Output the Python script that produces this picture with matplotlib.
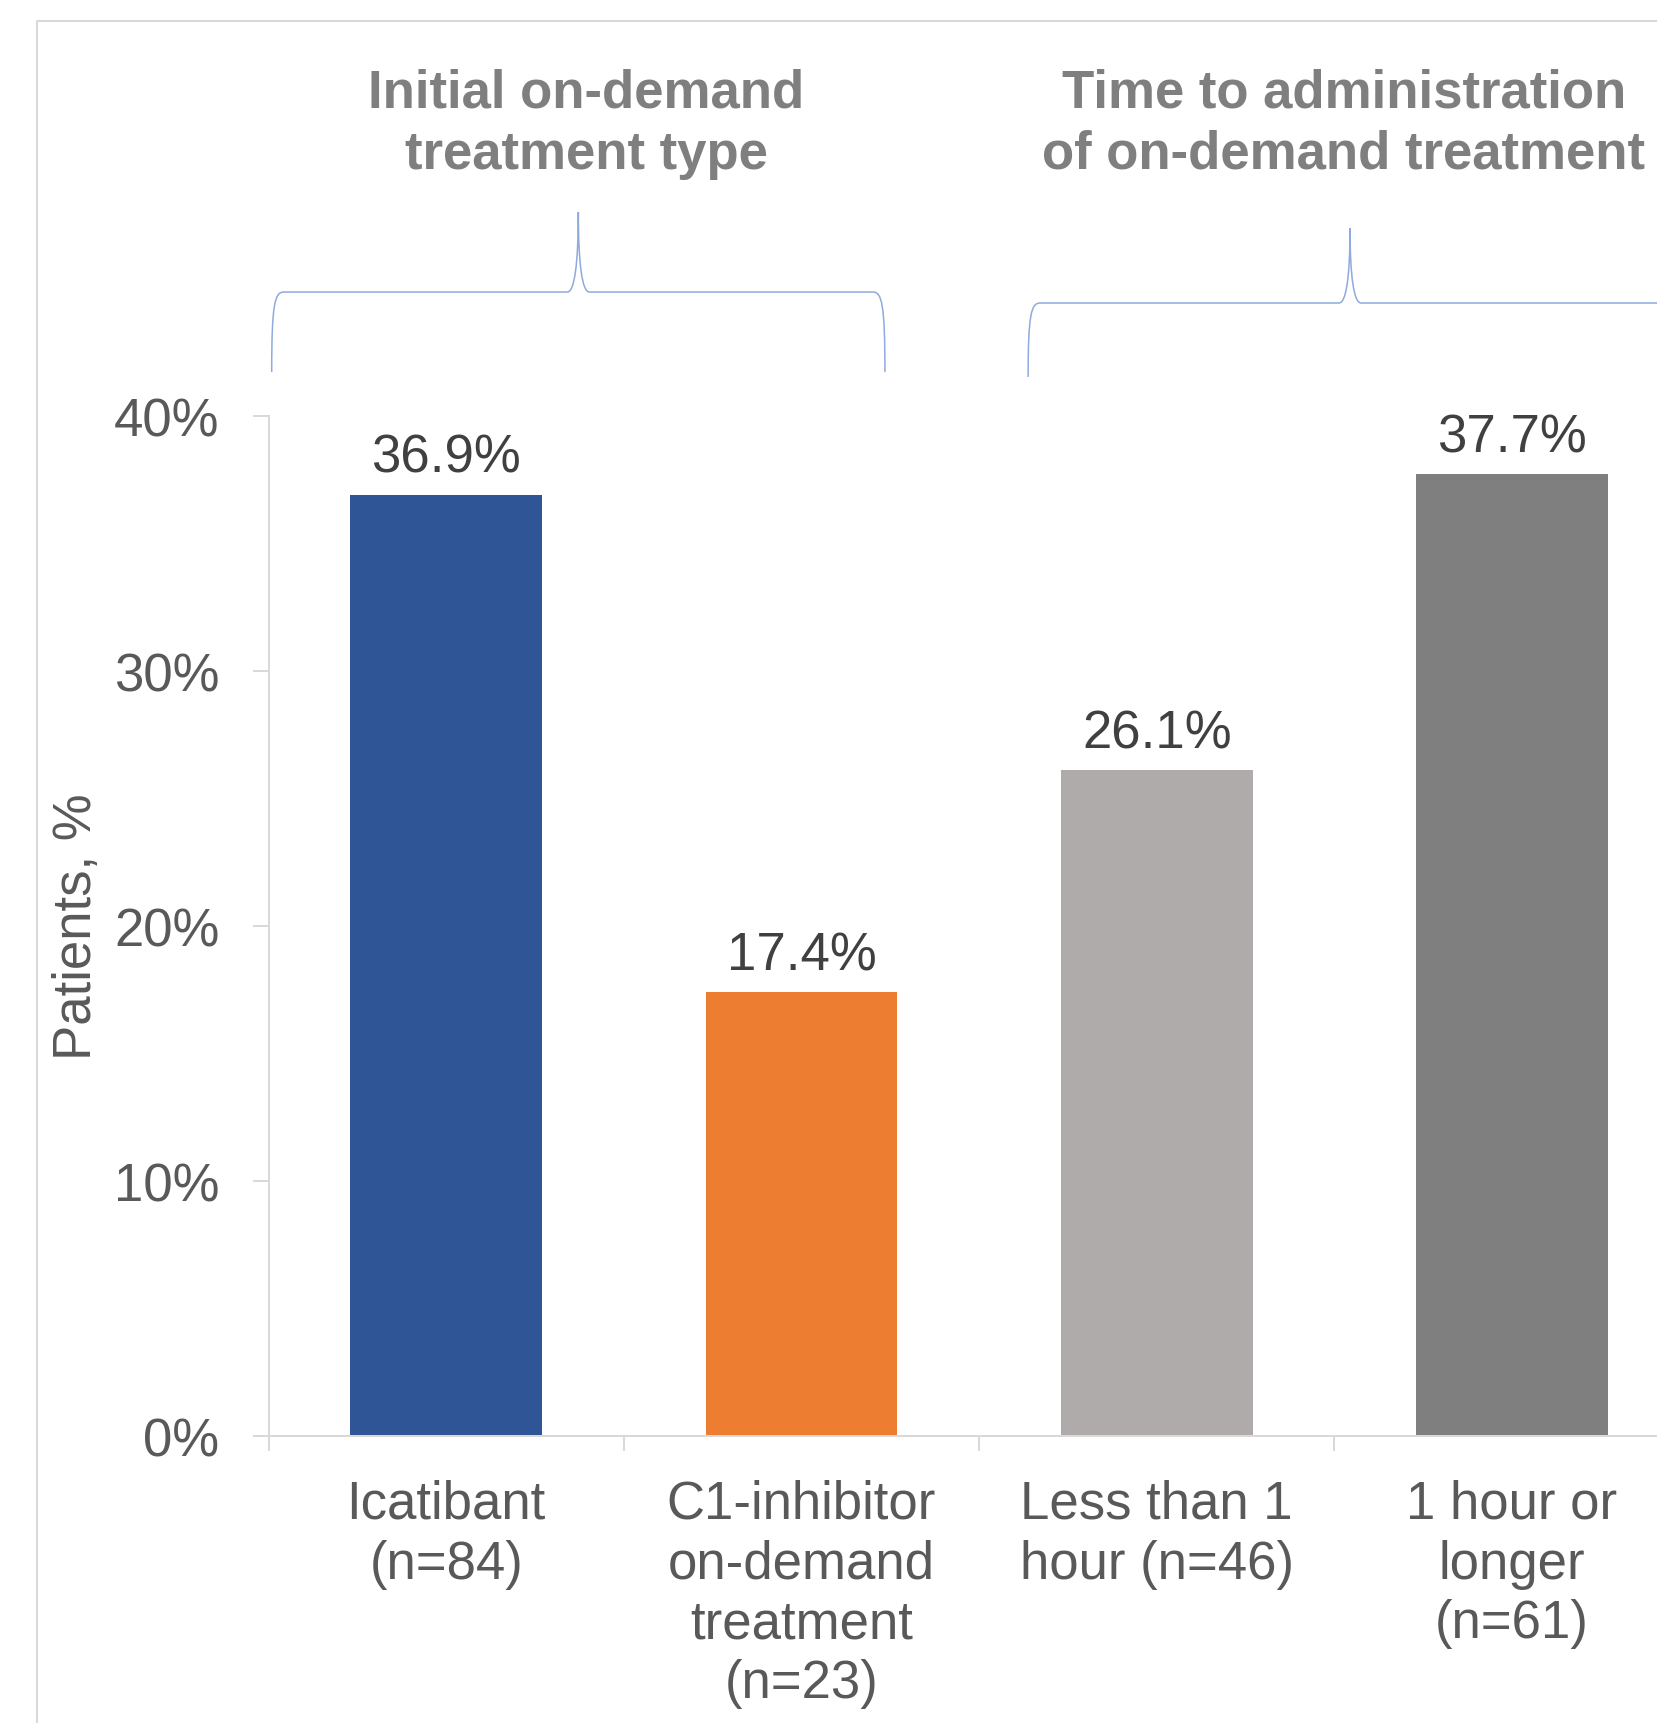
import matplotlib
matplotlib.use("Agg")
import matplotlib.pyplot as plt
from matplotlib.path import Path
from matplotlib.patches import PathPatch
from matplotlib.lines import Line2D
import numpy as np

# ---- data ----
categories = ["Icatibant\n(n=84)",
              "C1-inhibitor\non-demand\ntreatment\n(n=23)",
              "Less than 1\nhour (n=46)",
              "1 hour or\nlonger\n(n=61)"]
values = [36.9, 17.4, 26.1, 37.7]
value_labels = ["36.9%", "17.4%", "26.1%", "37.7%"]
yticks = [0, 10, 20, 30, 40]
ytick_labels = ["0%", "10%", "20%", "30%", "40%"]
group_titles = ["Initial on-demand\ntreatment type",
                "Time to administration\nof on-demand treatment"]
ylabel = "Patients, %"

# ---- style ----
bar_colors = ["#2F5597", "#ED7D31", "#AFABAB", "#7F7F7F"]
axis_color = "#D9D9D9"
tick_text = "#595959"
value_text = "#404040"
title_text = "#7F7F7F"
brace_color = "#8FAADC"
plt.rcParams['font.family'] = ['Liberation Sans', 'DejaVu Sans']

W, H, DPI = 1657, 1724, 100
fig = plt.figure(figsize=(W / DPI, H / DPI), dpi=DPI)
ax = fig.add_axes([268.5 / W, 1 - 1436.7 / H, 1421.2 / W, 1020.0 / H])

x = np.arange(len(values))
bars = ax.bar(x, values, width=0.54, color=bar_colors, zorder=2)
ax.bar_label(bars, labels=value_labels, padding=8.6, fontsize=38, color=value_text)

ax.set_xlim(-0.5, len(values) - 0.5)
ax.set_ylim(0, 40)
ax.set_yticks(yticks)
ax.set_yticklabels(ytick_labels)
ax.set_xticks(x)
ax.set_xticklabels(categories, linespacing=1.25)
ax.set_xticks(np.arange(len(values) + 1) - 0.5, minor=True)

for s in ["top", "right"]:
    ax.spines[s].set_visible(False)
for s in ["left", "bottom"]:
    ax.spines[s].set_color(axis_color)
    ax.spines[s].set_linewidth(1.44)

ax.tick_params(axis='y', which='major', direction='out', length=11.5, width=1.44,
               color=axis_color, labelsize=38, labelcolor=tick_text, pad=23.8)
ax.tick_params(axis='x', which='major', length=0, labelsize=38, labelcolor=tick_text, pad=31)
ax.tick_params(axis='x', which='minor', direction='out', length=10.8, width=1.44,
               color=axis_color)

ax.text(-0.5 + (77 - 268.5) / 355.3, 20, ylabel, rotation=90, ha='center', va='center',
        fontsize=38, color=tick_text, clip_on=False)


# ---- braces ----
def brace(ax, x0, x1, yb, yh, yt, cw, tw):
    xm = (x0 + x1) / 2
    verts = [
        (x0, yb),
        (x0, yh - 0.15 * (yh - yb)), (x0 + 0.25 * cw, yh), (x0 + cw, yh),
        (xm - tw, yh),
        (xm - 0.35 * tw, yh), (xm, yh + 0.35 * (yt - yh)), (xm, yt),
        (xm, yh + 0.35 * (yt - yh)), (xm + 0.35 * tw, yh), (xm + tw, yh),
        (x1 - cw, yh),
        (x1 - 0.25 * cw, yh), (x1, yh - 0.15 * (yh - yb)), (x1, yb),
    ]
    codes = [Path.MOVETO,
             Path.CURVE4, Path.CURVE4, Path.CURVE4,
             Path.LINETO,
             Path.CURVE4, Path.CURVE4, Path.CURVE4,
             Path.CURVE4, Path.CURVE4, Path.CURVE4,
             Path.LINETO,
             Path.CURVE4, Path.CURVE4, Path.CURVE4]
    p = PathPatch(Path(verts, codes), fill=False, edgecolor=brace_color, lw=1.1,
                  clip_on=False)
    ax.add_patch(p)


brace(ax, -0.491, 1.235, 41.71, 44.85, 47.99, 0.034, 0.031)
brace(ax, 1.638, 3.45, 41.52, 44.42, 47.36, 0.034, 0.031)

ax.text(0.394, 53.67, group_titles[0], ha='center', va='top', fontsize=38,
        fontweight='bold', color=title_text, linespacing=1.3, clip_on=False)
ax.text(2.527, 53.67, group_titles[1], ha='center', va='top', fontsize=38,
        fontweight='bold', color=title_text, linespacing=1.3, clip_on=False)

# ---- figure border ----
fig.add_artist(Line2D([37 / W, 37 / W, 1.0], [0.0, 1 - 22 / H, 1 - 22 / H],
                      transform=fig.transFigure, color=axis_color, lw=1.5))

fig.savefig("out.png", dpi=DPI)
